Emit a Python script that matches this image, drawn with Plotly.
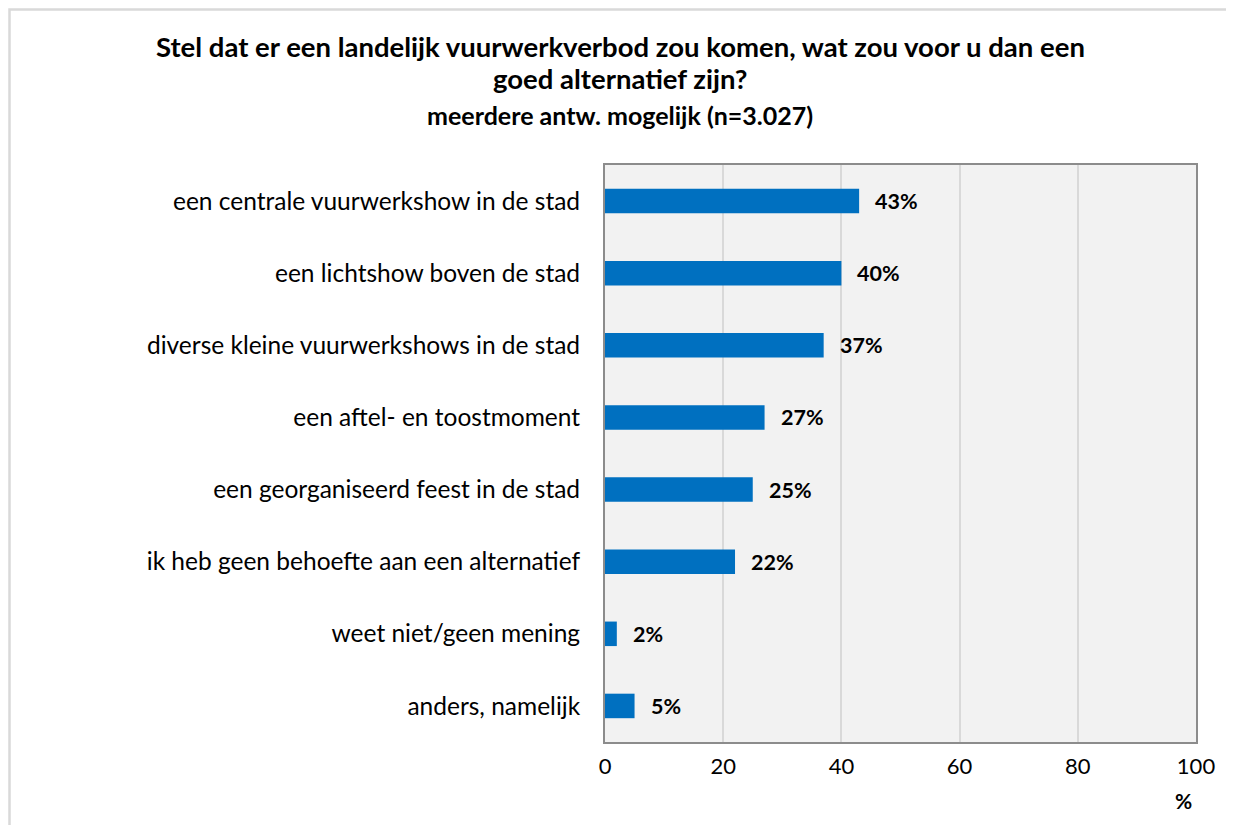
import plotly.graph_objects as go

categories = [
    "een centrale vuurwerkshow in de stad",
    "een lichtshow boven de stad",
    "diverse kleine vuurwerkshows in de stad",
    "een aftel- en toostmoment",
    "een georganiseerd feest in de stad",
    "ik heb geen behoefte aan een alternatief",
    "weet niet/geen mening",
    "anders, namelijk",
]
values = [43, 40, 37, 27, 25, 22, 2, 5]
labels = ["43%", "40%", "37%", "27%", "25%", "22%", "2%", "5%"]
x_ticks = [0, 20, 40, 60, 80, 100]

FONT = "Lato, 'Open Sans', sans-serif"
OFF = 8  # default body margin of the html page
W, H = 1234 - OFF, 825 - OFF
L, R, T, B = 605 - OFF, 38, 165 - OFF, 83
pw, ph = W - L - R, H - T - B


def px(X):
    return (X - OFF - L) / pw


def py(Y):
    return (T + ph - (Y - OFF)) / ph


fig = go.Figure()
fig.add_trace(go.Bar(
    y=categories, x=values, orientation="h",
    marker=dict(color="#0070c0", line=dict(width=0)),
    hoverinfo="skip",
))

for c, v, t in zip(categories, values, labels):
    fig.add_annotation(x=v, y=c, text="<b>%s</b>" % t, showarrow=False,
                       xanchor="left", xshift=14,
                       font=dict(family=FONT, size=21.5, color="#000000"))

fig.add_annotation(xref="paper", yref="paper", x=px(1183), y=py(800),
                   text="<b>%</b>", showarrow=False, xanchor="center", yanchor="middle",
                   font=dict(family=FONT, size=21, color="#000000"))

title_lines = [
    ("Stel dat er een landelijk vuurwerkverbod zou komen, wat zou voor u dan een", 47, 27.5),
    ("goed alternatief zijn?", 79, 27.5),
    ("meerdere antw. mogelijk (n=3.027)", 115, 25),
]
for txt, yy, sz in title_lines:
    fig.add_annotation(xref="paper", yref="paper", x=px(620), y=py(yy),
                       text="<b>%s</b>" % txt, showarrow=False,
                       xanchor="center", yanchor="middle",
                       font=dict(family=FONT, size=sz, color="#000000"))

# outer frame (page coords; the svg starts at 8px)
fig.add_shape(type="rect", xref="paper", yref="paper",
              x0=px(9.5), x1=px(1250), y0=py(840), y1=py(9.5),
              line=dict(color="#d9d9d9", width=2.5), fillcolor="rgba(0,0,0,0)", layer="below")

fig.update_layout(
    width=W, height=H,
    margin=dict(l=L, r=R, t=T, b=B, autoexpand=False),
    paper_bgcolor="#ffffff", plot_bgcolor="#f2f2f2",
    bargap=0.66, showlegend=False,
    font=dict(family=FONT, size=20, color="#000000"),
    xaxis=dict(range=[0, 100], tickvals=x_ticks, showgrid=True, gridcolor="#d9d9d9", gridwidth=2,
               showline=True, linecolor="#8c8c8c", linewidth=2, mirror=True, zeroline=False,
               ticks="", ticklabelstandoff=4, tickfont=dict(family=FONT, size=22, color="#000000"),
               fixedrange=True),
    yaxis=dict(autorange="reversed", showline=True, linecolor="#8c8c8c", linewidth=2, mirror=True,
               ticks="", ticklabelstandoff=18, showgrid=False,
               tickfont=dict(family=FONT, size=24.5, color="#000000"), fixedrange=True),
)

fig.write_html("out.html")
